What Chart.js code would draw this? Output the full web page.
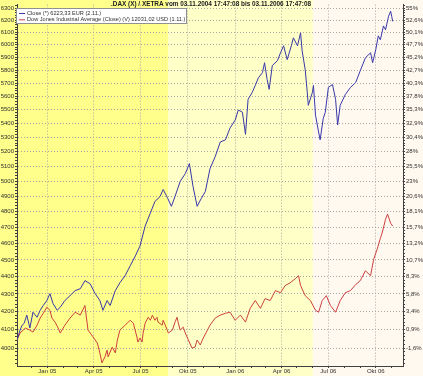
<!DOCTYPE html>
<html>
<head>
<meta charset="utf-8">
<script src="https://cdn.jsdelivr.net/npm/chart.js@4.4.1/dist/chart.umd.min.js"></script>
<style>
  html, body { margin: 0; padding: 0; background: #fff; }
  #wrap { width: 423px; height: 376px; }
</style>
</head>
<body>
<div id="wrap"><canvas id="chart" width="423" height="376"></canvas></div>
<script>
// DAX vs Dow Jones, 03.11.2004 - 03.11.2006
// x = calendar days since 03.11.2004, y = index points (Dow scaled to DAX start)

const chartTitle = '.DAX (X) / XETRA vom 03.11.2004 17:47:08 bis 03.11.2006 17:47:08';
const daxLabel = 'Close (*) 6223,33 EUR (2.11.)';
const dowLabel = 'Dow Jones Industrial Average (Close) (V) 12031,02 USD (1.11.)';

const daxDays = [0,6,10,14,19,25,31,39,45,51,58,64,70,78,84,93,103,113,123,132,142,152,161,167,175,181,191,200,210,220,230,239,249,259,268,278,284,292,300,307,317,327,335,342,350,358,366,375,385,395,405,414,424,430,438,444,449,457,463,469,477,481,486,490,496,506,512,518,525,533,537,545,551,554,560,564,566,574,576,580,586,589,595,599,605,613,619,623,628,638,648,658,667,677,687,691,697,702,706,712,716,722,726,728,730];
const daxClose = [4043,4097,4124,4135,4180,4108,4196,4168,4207,4234,4262,4301,4245,4207,4224,4262,4290,4319,4330,4377,4359,4301,4262,4207,4262,4234,4319,4365,4406,4465,4524,4585,4708,4790,4866,4898,4944,4892,4834,4898,4997,5050,5118,4964,4834,4885,4931,5084,5165,5268,5283,5368,5425,5498,5482,5322,5577,5629,5682,5740,5780,5857,5727,5652,5834,5873,5935,5991,5881,5991,6055,5991,6095,5951,5803,5629,5533,5629,5682,5460,5339,5283,5436,5482,5667,5689,5577,5389,5533,5614,5667,5704,5795,5896,5935,5857,5959,6071,6039,6152,6120,6232,6274,6232,6190];

const dowDays = [0,6,16,25,31,39,45,51,58,64,68,74,80,84,93,103,113,123,132,138,148,156,161,165,171,175,177,185,191,195,200,210,220,226,233,235,239,243,245,249,255,259,263,268,272,274,282,284,292,294,302,307,311,313,317,323,327,333,340,346,350,356,362,375,385,395,405,414,424,434,444,453,463,473,482,492,502,512,521,531,541,547,551,560,570,580,586,593,601,609,619,628,638,648,658,667,677,687,693,700,706,710,716,720,726,730];
const dowScaled = [4043,4081,4108,4097,4086,4124,4163,4190,4224,4207,4163,4141,4108,4081,4124,4163,4196,4180,4234,4097,4059,4027,3974,3921,3953,3989,3953,4005,3974,4043,4097,4124,4151,4135,4059,4032,4054,4032,4081,4135,4168,4151,4179,4151,4168,4141,4124,4151,4097,4081,4097,4141,4168,4141,4097,4113,4081,4043,4000,4005,4043,4016,4054,4124,4163,4180,4190,4196,4151,4180,4141,4218,4262,4218,4273,4262,4319,4307,4348,4365,4389,4406,4348,4290,4262,4207,4196,4262,4290,4234,4196,4262,4307,4319,4354,4377,4435,4406,4503,4567,4631,4671,4751,4784,4726,4708];

// x ticks: month starts (days since 03.11.2004), labels only at quarters
const monthDays = [28,59,90,118,149,179,210,240,271,302,332,363,393,424,455,483,514,544,575,605,636,667,697,728];
const quarterLabels = {59:'Jan 05',149:'Apr 05',240:'Jul 05',332:'Okt 05',424:'Jan 06',514:'Apr 06',605:'Jul 06',697:'Okt 06'};

// y ticks
const leftTicks = [4000,4100,4200,4300,4400,4500,4600,4700,4800,4900,5000,5100,5200,5300,5400,5500,5600,5700,5800,5900,6000,6100,6200,6300];
const rightTickLabels = ['-1,6%','0,9%','3,4%','5,8%','8,3%','10,7%','13,2%','15,7%','18,1%','20,6%','23%','25,5%','28%','30,4%','32,9%','35,3%','37,8%','40,3%','42,7%','45,2%','47,7%','50,1%','52,6%','55%'];

// background bands (day where band ends)
const bandEnds = [294, 575, Infinity];
const bandColors = ['#ffff8c', '#ffffc8', '#fff9ef'];

const daxColor = '#3838aa';
const dowColor = '#cc4040';
const gridColor = '#a8a8a8';
const axisColor = '#404040';

Chart.defaults.font.family = '"Liberation Sans", Arial, sans-serif';
Chart.defaults.font.size = 6;
Chart.defaults.color = '#303030';

function minorTicks(scale) {
  let t = [];
  for (let v = 3920; v <= 6320; v += 20) t.push({value: v});
  scale.ticks = t;
}

const bgPlugin = {
  id: 'bands',
  beforeDraw(chart) {
    const ctx = chart.ctx;
    const xs = chart.scales.x;
    let start = 0;
    for (let i = 0; i < bandEnds.length; i++) {
      let end = bandEnds[i] === Infinity ? chart.width : xs.getPixelForValue(bandEnds[i]);
      ctx.fillStyle = bandColors[i];
      ctx.fillRect(start, 0, end - start, chart.height);
      start = end;
    }
  }
};

const overlayPlugin = {
  id: 'overlay',
  afterDraw(chart) {
    const ctx = chart.ctx;
    ctx.save();
    // title
    ctx.font = 'bold 6.4px "Liberation Sans", Arial, sans-serif';
    ctx.fillStyle = '#202020';
    ctx.textAlign = 'center';
    ctx.textBaseline = 'middle';
    ctx.fillText(chartTitle, 211, 4.5);
    // legend
    ctx.fillStyle = '#ffffff';
    ctx.fillRect(16.5, 8.5, 170, 15);
    ctx.strokeStyle = '#909090';
    ctx.lineWidth = 1;
    ctx.strokeRect(16.5, 8.5, 170, 15);
    const items = [[daxLabel, daxColor], [dowLabel, dowColor]];
    ctx.font = '5.6px "Liberation Sans", Arial, sans-serif';
    ctx.textAlign = 'left';
    items.forEach((it, i) => {
      const y = 13 + i * 6.3;
      ctx.strokeStyle = it[1];
      ctx.beginPath();
      ctx.moveTo(19, y + 0.5);
      ctx.lineTo(25, y + 0.5);
      ctx.stroke();
      ctx.fillStyle = '#303030';
      ctx.fillText(it[0], 27, y + 0.5);
    });
    ctx.restore();
  }
};

const ctx = document.getElementById('chart').getContext('2d');
new Chart(ctx, {
  type: 'line',
  data: {
    datasets: [
      {
        label: daxLabel,
        data: daxDays.map((d, i) => ({x: d, y: daxClose[i]})),
        borderColor: daxColor,
        borderWidth: 1,
        pointRadius: 0,
        tension: 0,
        yAxisID: 'y'
      },
      {
        label: dowLabel,
        data: dowDays.map((d, i) => ({x: d, y: dowScaled[i]})),
        borderColor: dowColor,
        borderWidth: 1,
        pointRadius: 0,
        tension: 0,
        yAxisID: 'y'
      }
    ]
  },
  options: {
    responsive: false,
    animation: false,
    devicePixelRatio: 1,
    layout: { padding: { top: 3, left: 0, right: 0, bottom: 0 } },
    plugins: { legend: { display: false }, title: { display: false }, tooltip: { enabled: false } },
    scales: {
      x: {
        type: 'linear',
        min: 0,
        max: 750,
        afterBuildTicks: (s) => { s.ticks = monthDays.map(v => ({value: v})); },
        afterFit: (s) => { s.height = 10; },
        ticks: {
          autoSkip: false,
          maxRotation: 0,
          padding: 0,
          callback: (v) => quarterLabels[v] || ''
        },
        grid: {
          color: (c) => (c.tick && quarterLabels[c.tick.value]) ? gridColor : 'rgba(0,0,0,0)',
          tickColor: axisColor,
          tickLength: 2
        },
        border: { color: axisColor, dash: [1, 2] }
      },
      y: {
        type: 'logarithmic',
        position: 'left',
        min: 3905,
        max: 6330,
        afterBuildTicks: minorTicks,
        afterFit: (s) => { s.width = 17; },
        ticks: {
          autoSkip: false,
          padding: 1,
          callback: (v) => (v % 100 === 0 && leftTicks.indexOf(v) >= 0) ? String(v) : ''
        },
        grid: {
          color: (c) => (c.tick && c.tick.value % 100 === 0) ? gridColor : 'rgba(0,0,0,0)',
          tickColor: axisColor,
          tickLength: 2
        },
        border: { color: axisColor, dash: [1, 2] }
      },
      y2: {
        type: 'logarithmic',
        position: 'right',
        min: 3905,
        max: 6330,
        afterBuildTicks: minorTicks,
        afterFit: (s) => { s.width = 20; },
        ticks: {
          autoSkip: false,
          padding: 1,
          callback: (v) => {
            const i = leftTicks.indexOf(v);
            return i >= 0 ? rightTickLabels[i] : '';
          }
        },
        grid: {
          drawOnChartArea: false,
          tickColor: axisColor,
          tickLength: 2
        },
        border: { color: axisColor }
      }
    }
  },
  plugins: [bgPlugin, overlayPlugin]
});
</script>
</body>
</html>
